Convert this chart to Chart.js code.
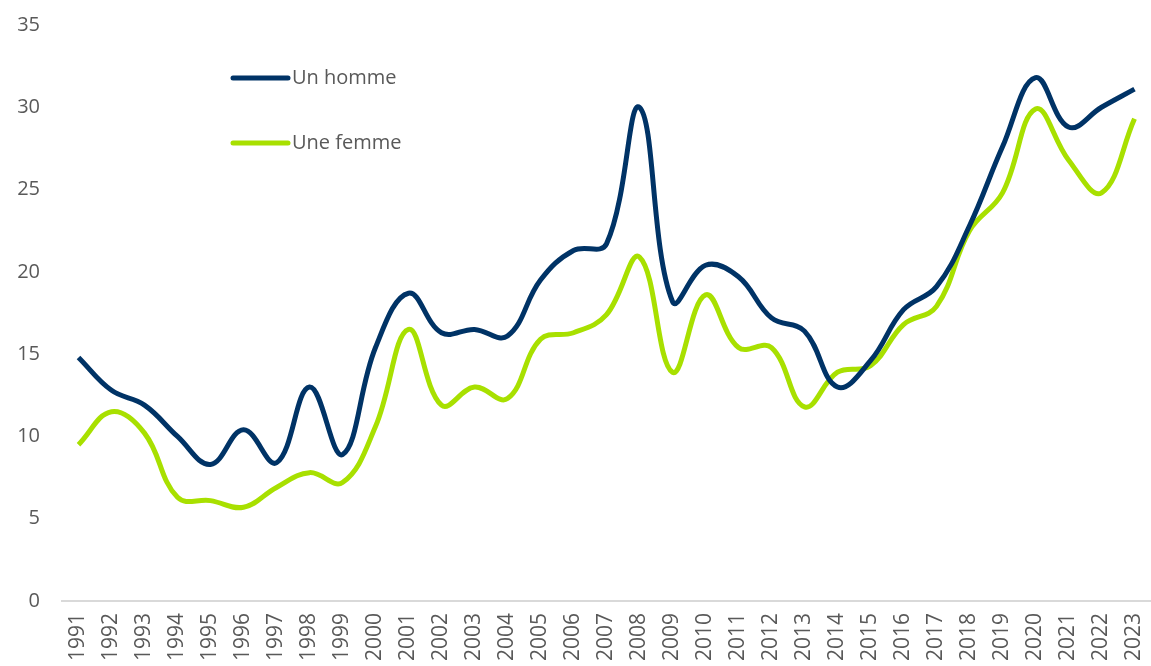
<!DOCTYPE html>
<html>
<head>
  <meta charset="utf-8">
  <title>Un homme / Une femme</title>
  <script src="https://cdn.jsdelivr.net/npm/chart.js"></script>
  <style>
    body { margin: 0; padding: 0; background: #fff; }
    #wrap { width: 1151px; height: 666px; }
  </style>
</head>
<body>
  <div id="wrap"><canvas id="myChart" width="1151" height="666"></canvas></div>

  <script>
    const years = [];
    for (let y = 1991; y <= 2023; y++) years.push(String(y));

    const homme = [14.8, 12.8, 11.9, 10.0, 8.3, 10.4, 8.4, 13.0, 8.9, 15.4,
                   18.7, 16.3, 16.5, 16.1, 19.5, 21.3, 21.7, 30.0, 18.2, 20.4,
                   19.7, 17.2, 16.4, 13.0, 14.6, 17.7, 19.1, 22.8, 27.6, 31.8,
                   28.8, 30.0, 31.1];
    const femme = [9.5, 11.5, 10.2, 6.3, 6.1, 5.7, 6.9, 7.8, 7.2, 10.6,
                   16.5, 11.9, 13.0, 12.3, 15.9, 16.3, 17.4, 20.9, 13.9, 18.6,
                   15.4, 15.4, 11.8, 13.9, 14.3, 16.8, 17.9, 22.5, 24.8, 29.9,
                   26.8, 24.8, 29.3];

    const textColor = '#595959';
    const fontFamily = '"Open Sans", sans-serif';

    // legend drawn inside the plot, top-left, like the original
    const insideLegend = {
      id: 'insideLegend',
      afterDraw(chart) {
        const c = chart.ctx;
        const left = chart.chartArea.left + 171;
        const top = 78;
        const gap = 65;
        c.save();
        c.font = '20px ' + fontFamily;
        c.textBaseline = 'middle';
        c.lineCap = 'round';
        chart.data.datasets.forEach((ds, i) => {
          const y = top + i * gap;
          c.strokeStyle = ds.borderColor;
          c.lineWidth = 5;
          c.beginPath();
          c.moveTo(left, y);
          c.lineTo(left + 55, y);
          c.stroke();
          c.fillStyle = textColor;
          c.fillText(ds.label, left + 59, y);
        });
        c.restore();
      }
    };

    const ctx = document.getElementById('myChart').getContext('2d');
    const chart = new Chart(ctx, {
      type: 'line',
      data: {
        labels: years,
        datasets: [{
          label: 'Un homme',
          data: homme,
          borderColor: '#003366',
          borderWidth: 5,
          pointRadius: 0,
          tension: 0.4,
          fill: false
        }, {
          label: 'Une femme',
          data: femme,
          borderColor: '#A8E000',
          borderWidth: 5,
          pointRadius: 0,
          tension: 0.4,
          fill: false
        }]
      },
      plugins: [insideLegend],
      options: {
        responsive: false,
        animation: false,
        layout: { padding: { top: 25, right: 0, left: 0, bottom: 0 } },
        plugins: {
          legend: { display: false },
          tooltip: { enabled: false }
        },
        scales: {
          x: {
            offset: true,
            grid: { display: false, drawTicks: false },
            border: { display: true, color: '#d9d9d9', width: 2 },
            ticks: {
              color: textColor,
              font: { size: 21, family: fontFamily },
              minRotation: 90,
              maxRotation: 90,
              autoSkip: false,
              padding: 12
            },
            afterFit(scale) {
              scale.height = 65;
              scale.paddingLeft = 0;
              scale.paddingRight = 0;
            }
          },
          y: {
            min: 0,
            max: 35,
            grid: { display: false, drawTicks: false },
            border: { display: false },
            ticks: {
              stepSize: 5,
              color: textColor,
              font: { size: 20, family: fontFamily },
              padding: 22
            },
            afterFit(scale) {
              scale.width = 62;
              scale.paddingTop = 0;
              scale.paddingBottom = 0;
            }
          }
        }
      }
    });
  </script>
</body>
</html>
